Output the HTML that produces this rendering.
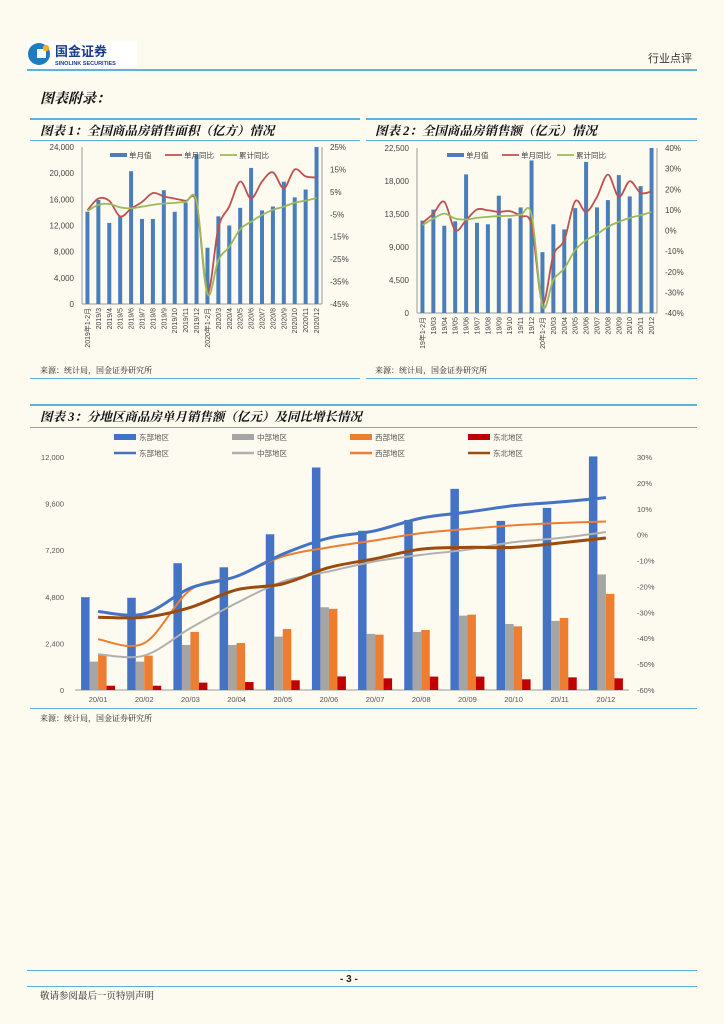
<!DOCTYPE html>
<html><head><meta charset="utf-8">
<style>
body{margin:0;background:#fdfaf0;font-family:"Liberation Sans","Noto Sans CJK SC",sans-serif;}
#page{position:relative;width:724px;height:1024px;overflow:hidden;background:#fdfaf0;}
.abs{position:absolute;}
.hl{position:absolute;height:2px;background:#5ab4e0;}
.title{position:absolute;font-family:"Liberation Serif","Noto Serif CJK SC",serif;font-weight:bold;font-style:italic;font-size:12.5px;color:#111;}
.src{position:absolute;font-size:8px;color:#222;font-family:"Liberation Serif","Noto Serif CJK SC",serif;}
svg text{font-family:"Liberation Sans","Noto Sans CJK SC",sans-serif;}
</style></head><body>
<div id="page">
  <div class="abs" style="left:27px;top:41px;width:110px;height:26px;background:#fff;">
    <svg width="110" height="26">
      <circle cx="12" cy="13" r="11" fill="#1e7cc0"/><rect x="10" y="8" width="9" height="9" fill="#fff"/><circle cx="19" cy="7" r="3.2" fill="#f0b020"/>
      <text x="28" y="15" font-size="13" font-weight="bold" fill="#1a3c8c" font-family="Noto Sans CJK SC">国金证券</text>
      <text x="28" y="24" font-size="5.5" font-weight="bold" fill="#1a3c8c">SINOLINK SECURITIES</text>
    </svg>
  </div>
  <div class="abs" style="left:648px;top:50px;font-size:11px;color:#333;">行业点评</div>
  <div class="hl" style="left:27px;top:69px;width:670px;"></div>
  <div class="title" style="left:40px;top:88px;font-size:14px;">图表附录：</div>

  <div class="hl" style="left:30px;top:118px;width:330px;"></div>
  <div class="title" style="left:40px;top:121px;">图表 1：全国商品房销售面积（亿方）情况</div>
  <div class="hl" style="left:30px;top:140px;width:330px;height:1px;"></div>
  <svg id="c1" class="abs" style="left:0;top:0" width="724" height="380"></svg>
  <div class="src" style="left:40px;top:365px;">来源：统计局，国金证券研究所</div>
  <div class="hl" style="left:30px;top:378px;width:330px;height:1px;"></div>

  <div class="hl" style="left:366px;top:118px;width:331px;"></div>
  <div class="title" style="left:375px;top:121px;">图表 2：全国商品房销售额（亿元）情况</div>
  <div class="hl" style="left:366px;top:140px;width:331px;height:1px;"></div>
  <svg id="c2" class="abs" style="left:0;top:0" width="724" height="380"></svg>
  <div class="src" style="left:375px;top:365px;">来源：统计局，国金证券研究所</div>
  <div class="hl" style="left:366px;top:378px;width:331px;height:1px;"></div>

  <div class="hl" style="left:30px;top:404px;width:667px;"></div>
  <div class="title" style="left:40px;top:407px;">图表 3：分地区商品房单月销售额（亿元）及同比增长情况</div>
  <div class="hl" style="left:30px;top:427px;width:667px;height:1px;"></div>
  <svg id="c3" class="abs" style="left:0;top:428px" width="724" height="280"></svg>
  <div class="hl" style="left:30px;top:708px;width:667px;height:1px;"></div>
  <div class="src" style="left:40px;top:713px;">来源：统计局，国金证券研究所</div>

  <div class="abs" style="left:27px;top:970px;width:670px;height:1px;background:#5ab4e0;"></div>
  <div class="abs" style="left:340px;top:974px;font-size:10px;font-weight:bold;color:#222;">- 3 -</div>
  <div class="abs" style="left:27px;top:986px;width:670px;height:1px;background:#5ab4e0;"></div>
  <div class="src" style="left:40px;top:988px;font-size:9.5px;">敬请参阅最后一页特别声明</div>
</div>
<script>
const c1Cats=["2019年1-2月","2019/3","2019/4","2019/5","2019/6","2019/7","2019/8","2019/9","2019/10","2019/11","2019/12","2020年1-2月","2020/3","2020/4","2020/5","2020/6","2020/7","2020/8","2020/9","2020/10","2020/11","2020/12"];
const c1Bars=[14100,15900,12400,13500,20300,13000,13000,17400,14100,15500,22900,8600,13400,12000,14700,20800,14300,14900,18700,16300,17500,24000];
const c1Yoy=[-3.2,2,1,-6,-2.5,0.5,4.5,3,2,1,0,-39.6,-11,-1.5,9.6,2,9.6,13.7,6.6,15,11.9,11.4];
const c1Cum=[-3.5,-0.8,-0.4,-1.9,-2.3,-1.6,-0.8,-0.2,0.1,0.5,0.8,-40.4,-25.4,-19.5,-11.7,-8.3,-5.3,-3,-1.6,0.2,1.1,2.3];
const c1LeftTicks=[0,4000,8000,12000,16000,20000,24000];
const c1RightTicks=[-45,-35,-25,-15,-5,5,15,25];

const c2Cats=["19年1-2月","19/03","19/04","19/05","19/06","19/07","19/08","19/09","19/10","19/11","19/12","20年1-2月","20/03","20/04","20/05","20/06","20/07","20/08","20/09","20/10","20/11","20/12"];
const c2Bars=[12600,14100,11900,12500,18900,12300,12100,16000,12900,14400,20800,8300,12100,11400,14300,20600,14400,15400,18800,15900,17300,22500];
const c2Yoy=[3.7,8.2,13.9,0.2,5,10.2,9.8,9,9.4,7,2.6,-35,-12,-4.7,14.2,9,16.3,27.1,16.3,23.9,18.2,19];
const c2Cum=[2.6,5.8,8.2,5.8,5.3,6.1,6.6,7,7.1,7.6,7.7,-36.6,-24,-18.4,-9.5,-4.7,-1.8,1.8,4.2,6.1,7.4,9];
const c2LeftTicks=[0,4500,9000,13500,18000,22500];
const c2RightTicks=[-40,-30,-20,-10,0,10,20,30,40];

const c3Cats=["20/01","20/02","20/03","20/04","20/05","20/06","20/07","20/08","20/09","20/10","20/11","20/12"];
const c3East=[4780,4750,6530,6320,8020,11460,8200,8760,10360,8710,9380,12030];
const c3Central=[1460,1460,2320,2320,2750,4260,2890,2990,3830,3400,3560,5950];
const c3West=[1800,1770,2990,2420,3140,4180,2850,3090,3880,3280,3710,4950];
const c3NE=[220,220,380,410,500,700,600,690,690,550,650,600];
const c3EastYoy=[-29.7,-30.6,-20.6,-16.1,-7.5,-1.3,1.5,6.4,8.7,11.2,12.6,14.3];
const c3CentralYoy=[-46.2,-46.7,-36.1,-26.4,-18.1,-14.2,-10.3,-7.8,-5.8,-2.9,-1.3,1];
const c3WestYoy=[-40.4,-41.9,-21.3,-16.1,-8.4,-4.9,-2.2,0.6,2.2,3.6,4.5,5.1];
const c3NEYoy=[-31.9,-31.9,-28.1,-21.3,-19,-12.7,-9.3,-5.6,-4.9,-4.9,-3.2,-1.3];
const c3LeftTicks=[0,2400,4800,7200,9600,12000];
const c3RightTicks=[-60,-50,-40,-30,-20,-10,0,10,20,30];

const NS="http://www.w3.org/2000/svg";
function mk(parent,tag,attrs){const e=document.createElementNS(NS,tag);for(const k in attrs)e.setAttribute(k,attrs[k]);parent.appendChild(e);return e;}
function smooth(pts){let d="M"+pts[0][0]+","+pts[0][1];for(let i=0;i<pts.length-1;i++){const p0=pts[i-1]||pts[i],p1=pts[i],p2=pts[i+1],p3=pts[i+2]||p2;const t=6;d+=" C"+(p1[0]+(p2[0]-p0[0])/t)+","+(p1[1]+(p2[1]-p0[1])/t)+" "+(p2[0]-(p3[0]-p1[0])/t)+","+(p2[1]-(p3[1]-p1[1])/t)+" "+p2[0]+","+p2[1];}return d;}
function fmt(v){return v.toLocaleString("en-US");}

function combo(svg,o){
  const ly=v=>o.y0-(v-o.lmin)/(o.lmax-o.lmin)*(o.y0-o.y1);
  const ry=v=>o.y0-(v-o.rmin)/(o.rmax-o.rmin)*(o.y0-o.y1);
  const step=(o.xr-o.xl)/o.cats.length;
  const cx=i=>o.xl+step*(i+0.5);
  const ax=mk(svg,"line",{x1:o.xl,y1:o.y1,x2:o.xl,y2:o.y0,stroke:"#999","stroke-width":1});
  
  const bx=mk(svg,"line",{x1:o.xl,y1:o.y0,x2:o.xr,y2:o.y0,stroke:"#999","stroke-width":1});
  
  const rx=mk(svg,"line",{x1:o.xr,y1:o.y1,x2:o.xr,y2:o.y0,stroke:"#999","stroke-width":1});
  
  o.lt.forEach(v=>{const t=mk(svg,"text",{x:o.xl-8,y:ly(v)+3,"font-size":8,"text-anchor":"end",fill:"#444"});t.textContent=fmt(v);
    });
  o.rt.forEach(v=>{const t=mk(svg,"text",{x:o.xr+8,y:ry(v)+3,"font-size":8,fill:"#444"});t.textContent=v+"%";
    });
  o.bars.forEach((v,i)=>{const r=mk(svg,"rect",{x:cx(i)-2,y:ly(v),width:4,height:o.y0-ly(v),fill:"#4a7ebb"});
    });
  const p1=mk(svg,"path",{d:smooth(o.yoy.map((v,i)=>[cx(i),ry(v)])),fill:"none",stroke:"#c0504d","stroke-width":1.8});
  
  const p2=mk(svg,"path",{d:smooth(o.cum.map((v,i)=>[cx(i),ry(v)])),fill:"none",stroke:"#9bbb59","stroke-width":1.8});
  
  o.cats.forEach((c,i)=>{const t=mk(svg,"text",{transform:"translate("+(cx(i)+2.5)+","+(o.y0+4)+") rotate(-90)","font-size":7,"text-anchor":"end",fill:"#444"});t.textContent=c;
    });
  const lg=[["单月值","#4a7ebb",4],["单月同比","#c0504d",1.8],["累计同比","#9bbb59",1.8]];
  lg.forEach((l,k)=>{const x=o.lgx+k*55;const s=mk(svg,"line",{x1:x,y1:o.lgy,x2:x+17,y2:o.lgy,stroke:l[1],"stroke-width":l[2]});
    
    const t=mk(svg,"text",{x:x+19,y:o.lgy+3,"font-size":7.5,fill:"#444"});t.textContent=l[0];
    });
}
combo(document.getElementById("c1"),{cats:c1Cats,bars:c1Bars,yoy:c1Yoy,cum:c1Cum,lt:c1LeftTicks,rt:c1RightTicks,lmin:0,lmax:24000,rmin:-45,rmax:25,xl:82,xr:322,y0:304,y1:147,lgx:110,lgy:155});
combo(document.getElementById("c2"),{cats:c2Cats,bars:c2Bars,yoy:c2Yoy,cum:c2Cum,lt:c2LeftTicks,rt:c2RightTicks,lmin:0,lmax:22500,rmin:-40,rmax:40,xl:417,xr:657,y0:313,y1:148,lgx:447,lgy:155});
(function(){
  const svg=document.getElementById("c3");const off=428;
  const y0=690-off,y1=457-off,xl=75,xr=629;
  const ly=v=>y0-v/12000*(y0-y1);
  const ry=v=>y0-(v+60)/90*(y0-y1);
  const step=(xr-xl)/c3Cats.length;const cx=i=>xl+step*(i+0.5);
  const a=mk(svg,"line",{x1:xl,y1:y0,x2:xr,y2:y0,stroke:"#999"});
  
  c3LeftTicks.forEach(v=>{const t=mk(svg,"text",{x:64,y:ly(v)+3,"font-size":7.5,"text-anchor":"end",fill:"#555"});t.textContent=fmt(v);
    });
  c3RightTicks.forEach(v=>{const t=mk(svg,"text",{x:637,y:ry(v)+3,"font-size":7.5,fill:"#555"});t.textContent=v+"%";
    });
  c3Cats.forEach((c,i)=>{const t=mk(svg,"text",{x:cx(i),y:y0+12,"font-size":7.5,"text-anchor":"middle",fill:"#555"});t.textContent=c;
    });
  const series=[[c3East,"#4472c4","east"],[c3Central,"#a5a5a5","central"],[c3West,"#ed7d31","west"],[c3NE,"#c00000","northeast"]];
  series.forEach((s,k)=>{s[0].forEach((v,i)=>{const r=mk(svg,"rect",{x:cx(i)-17+k*8.5,y:ly(v),width:8.5,height:y0-ly(v),fill:s[1]});
    });});
  const lines=[[c3CentralYoy,"#b0b0b0",2,"central"],[c3WestYoy,"#ed7d31",2,"west"],[c3NEYoy,"#9c4a0e",3,"northeast"],[c3EastYoy,"#4472c4",3,"east"]];
  lines.forEach(l=>{const p=mk(svg,"path",{d:smooth(l[0].map((v,i)=>[cx(i),ry(v)])),fill:"none",stroke:l[1],"stroke-width":l[2]});
    });
  const names=["东部地区","中部地区","西部地区","东北地区"];
  const barC=["#4472c4","#a5a5a5","#ed7d31","#c00000"];const lnC=["#4472c4","#b0b0b0","#ed7d31","#9c4a0e"];
  names.forEach((n,k)=>{const x=114+k*118;
    const b=mk(svg,"rect",{x:x,y:437-off-3,width:22,height:6,fill:barC[k]});
    
    const t=mk(svg,"text",{x:x+25,y:437-off+3,"font-size":7.5,fill:"#555"});t.textContent=n;
    
    const l=mk(svg,"line",{x1:x,y1:453-off,x2:x+22,y2:453-off,stroke:lnC[k],"stroke-width":2.5});
    
    const t2=mk(svg,"text",{x:x+25,y:453-off+3,"font-size":7.5,fill:"#555"});t2.textContent=n;
    });
})();
</script>
</body></html>
